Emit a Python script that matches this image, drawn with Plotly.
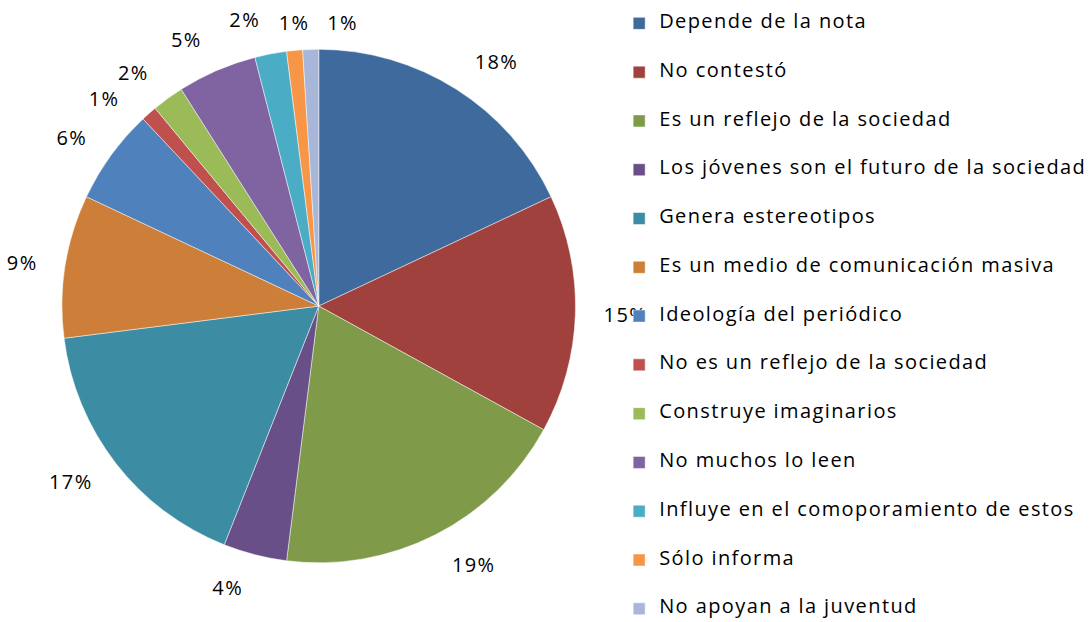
import plotly.graph_objects as go

# Survey answers and their share of responses (%)
categories = [
    "Depende de la nota",
    "No contestó",
    "Es un reflejo de la sociedad",
    "Los jóvenes son el futuro de la sociedad",
    "Genera estereotipos",
    "Es un medio de comunicación masiva",
    "Ideología del periódico",
    "No es un reflejo de la sociedad",
    "Construye imaginarios",
    "No muchos lo leen",
    "Influye en el comoporamiento de estos",
    "Sólo informa",
    "No apoyan a la juventud",
]
shares = [18, 15, 19, 4, 17, 9, 6, 1, 2, 5, 2, 1, 1]

slice_colors = [
    "#3E6A9E", "#A0413D", "#7F9B4A", "#694F87", "#3C8DA3", "#CD7E39",
    "#4F81BD", "#C0504D", "#9BBB59", "#8064A2", "#4BACC6", "#F79646",
    "#A8B7D9",
]

FONT = "'Open Sans', 'Noto Sans', sans-serif"
TEXT_SIZE = 20
SPACING = "letter-spacing:1.4px"

# legend rows are padded with blank lines to get the wide row spacing
legend_labels = [
    f" <br><span style='font-size:{TEXT_SIZE}px;{SPACING}'>{c}</span><br> "
    for c in categories
]

pie_common = dict(
    labels=legend_labels,
    values=shares,
    sort=False,
    direction="clockwise",
)

fig = go.Figure()

# the coloured pie itself
fig.add_trace(
    go.Pie(
        **pie_common,
        rotation=0,
        marker=dict(colors=slice_colors, line=dict(color="rgba(255,255,255,0.6)", width=0.8)),
        textinfo="none",
        domain=dict(x=[0.0568, 0.527], y=[0.0949, 0.921]),
        hoverinfo="label+percent",
    )
)

# Percentage labels are carried by transparent pies that are a little
# larger than the coloured one, split into layers so the crowded small
# slices near the top keep their own places instead of being stacked.
big_ring = dict(x=[0.0375, 0.5467], y=[0.0611, 0.955])
mid_ring = dict(x=[0.04487, 0.5394], y=[0.07395, 0.9421])
label_layers = [
    ([0, 1, 2, 3, 4, 5, 6, 9], big_ring, 0),
    ([7], big_ring, -2.5),
    ([8, 10], big_ring, 0),
    ([11], mid_ring, 4.8),
    ([12], mid_ring, 2.1),
]

for shown, ring, turn in label_layers:
    fig.add_trace(
        go.Pie(
            **pie_common,
            rotation=turn,
            marker=dict(colors=["rgba(0,0,0,0)"] * len(shares), line=dict(width=0)),
            textposition=["outside" if i in shown else "none" for i in range(len(shares))],
            texttemplate=f"<span style='{SPACING}'>%{{percent:.0%}}</span>",
            textfont=dict(family=FONT, size=TEXT_SIZE, color="#000000"),
            domain=ring,
            showlegend=False,
            hoverinfo="skip",
        )
    )

fig.update_layout(
    width=1092,
    height=622,
    margin=dict(l=0, r=0, t=0, b=0, autoexpand=False),
    paper_bgcolor="white",
    plot_bgcolor="white",
    font=dict(family=FONT, color="#000000"),
    legend=dict(
        x=0.567,
        y=1.0097,
        xanchor="left",
        yanchor="top",
        maxheight=760,
        font=dict(family=FONT, size=11.74, color="#000000"),
        bgcolor="rgba(0,0,0,0)",
        traceorder="normal",
    ),
)

fig.write_html("out.html")
